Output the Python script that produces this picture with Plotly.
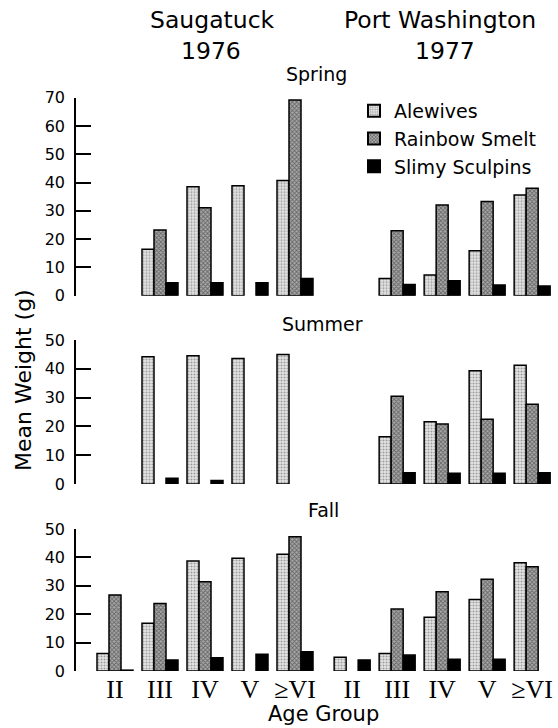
import plotly.graph_objects as go
from plotly.subplots import make_subplots

ages = ["II", "III", "IV", "V", "≥VI"]
series = ["Alewives", "Rainbow Smelt", "Slimy Sculpins"]
seasons = ["Spring", "Summer", "Fall"]

# Saugatuck 1976
sau_spring_alewife = [None, 16.4, 38.5, 38.9, 40.7]
sau_spring_smelt = [None, 23.2, 31.1, None, 69.2]
sau_spring_sculpin = [None, 4.6, 4.6, 4.6, 6.1]
sau_summer_alewife = [None, 44.2, 44.5, 43.6, 45.0]
sau_summer_smelt = [None, None, None, None, None]
sau_summer_sculpin = [None, 2.0, 1.2, None, None]
sau_fall_alewife = [6.2, 16.8, 38.7, 39.7, 41.1]
sau_fall_smelt = [26.8, 23.8, 31.4, None, 47.3]
sau_fall_sculpin = [0.3, 3.9, 4.7, 5.9, 6.8]

# Port Washington 1977
pw_spring_alewife = [None, 6.1, 7.3, 15.9, 35.6]
pw_spring_smelt = [None, 23.0, 32.1, 33.3, 38.0]
pw_spring_sculpin = [None, 4.0, 5.3, 3.8, 3.4]
pw_summer_alewife = [None, 16.4, 21.6, 39.3, 41.2]
pw_summer_smelt = [None, 30.5, 20.8, 22.5, 27.7]
pw_summer_sculpin = [None, 3.9, 3.7, 3.7, 3.9]
pw_fall_alewife = [4.8, 6.2, 18.9, 25.2, 38.1]
pw_fall_smelt = [None, 21.8, 27.9, 32.3, 36.7]
pw_fall_sculpin = [3.9, 5.6, 4.1, 4.1, None]

data = {
    "Spring": [(sau_spring_alewife, pw_spring_alewife), (sau_spring_smelt, pw_spring_smelt), (sau_spring_sculpin, pw_spring_sculpin)],
    "Summer": [(sau_summer_alewife, pw_summer_alewife), (sau_summer_smelt, pw_summer_smelt), (sau_summer_sculpin, pw_summer_sculpin)],
    "Fall": [(sau_fall_alewife, pw_fall_alewife), (sau_fall_smelt, pw_fall_smelt), (sau_fall_sculpin, pw_fall_sculpin)],
}

# group positions (left block, right block with a wider gap)
gap = 1.27
xs = list(range(5)) + [5 - 1 + gap + i for i in range(5)]

styles = [
    dict(color="white", line=dict(color="black", width=1.5),
         pattern=dict(shape=".", fgcolor="#555555", bgcolor="#e6e6e6", size=3, solidity=0.4)),
    dict(color="#888888", line=dict(color="black", width=1.5),
         pattern=dict(shape="x", fgcolor="#222222", bgcolor="#aaaaaa", size=3, solidity=0.5)),
    dict(color="black", line=dict(color="black", width=1.5)),
]

fig = make_subplots(rows=3, cols=1)

for r, season in enumerate(seasons, start=1):
    for s, name in enumerate(series):
        left, right = data[season][s]
        fig.add_trace(go.Bar(
            x=xs, y=list(left) + list(right), name=name,
            marker=styles[s], legendgroup=name, showlegend=(r == 1),
        ), row=r, col=1)

H = 728.0
W = 558.0
def yd(bot, top):
    return [1 - bot / H, 1 - top / H]

xrange = [(76 - 115) / 45.0, (558 - 115) / 45.0]
xdom = [76 / W, 1.0]

SANS = "DejaVu Sans, Liberation Sans, Arial, sans-serif"

fig.update_layout(
    width=558, height=728,
    margin=dict(l=0, r=0, t=0, b=0, pad=0),
    paper_bgcolor="white", plot_bgcolor="white",
    barmode="group", bargap=0.2, bargroupgap=0,
    font=dict(family=SANS, size=16, color="black"),
    legend=dict(x=354 / W, y=1 - 92 / H, xanchor="left", yanchor="top",
                font=dict(size=19, family=SANS), bgcolor="rgba(0,0,0,0)",
                itemsizing="constant", tracegroupgap=0),
)

axcommon = dict(showgrid=False, zeroline=False, showline=True, linecolor="black",
                linewidth=1.5, ticks="inside", ticklen=15, tickwidth=1.5,
                tickcolor="black", tickfont=dict(size=16, family=SANS),
                ticklabelstandoff=6, automargin=False)

fig.update_yaxes(**axcommon)
fig.update_yaxes(range=[0, 70], dtick=10, domain=yd(295.7, 97.7), row=1, col=1)
fig.update_yaxes(range=[0, 50], dtick=10, domain=yd(484, 340), row=2, col=1)
fig.update_yaxes(range=[0, 50], dtick=10, domain=yd(671, 529), row=3, col=1)

for r in (1, 2, 3):
    fig.update_xaxes(range=xrange, domain=xdom, showgrid=False, zeroline=False,
                     showline=False, showticklabels=(r == 3), ticks="",
                     tickvals=xs, ticktext=ages * 2, automargin=False,
                     tickfont=dict(family="Liberation Serif, Times New Roman, serif", size=26),
                     row=r, col=1)

ann = [
    ("Saugatuck", 212, 20, 23.5), ("1976", 211, 51, 23.5),
    ("Port Washington", 440, 20, 23.5), ("1977", 445, 51, 23.5),
    ("Spring", 316, 74, 19), ("Summer", 322, 324, 19), ("Fall", 323, 510, 19),
    ("Age Group", 323, 714, 21),
]
for text, px, py, fs in ann:
    fig.add_annotation(text=text, x=px / W, y=1 - py / H, xref="paper", yref="paper",
                       xanchor="center", yanchor="middle", showarrow=False,
                       font=dict(size=fs, family=SANS))
fig.add_annotation(text="Mean Weight (g)", x=23 / W, y=1 - 380 / H, xref="paper",
                   yref="paper", xanchor="center", yanchor="middle", showarrow=False,
                   textangle=-90, font=dict(size=22, family=SANS))

fig.write_html("out.html")
